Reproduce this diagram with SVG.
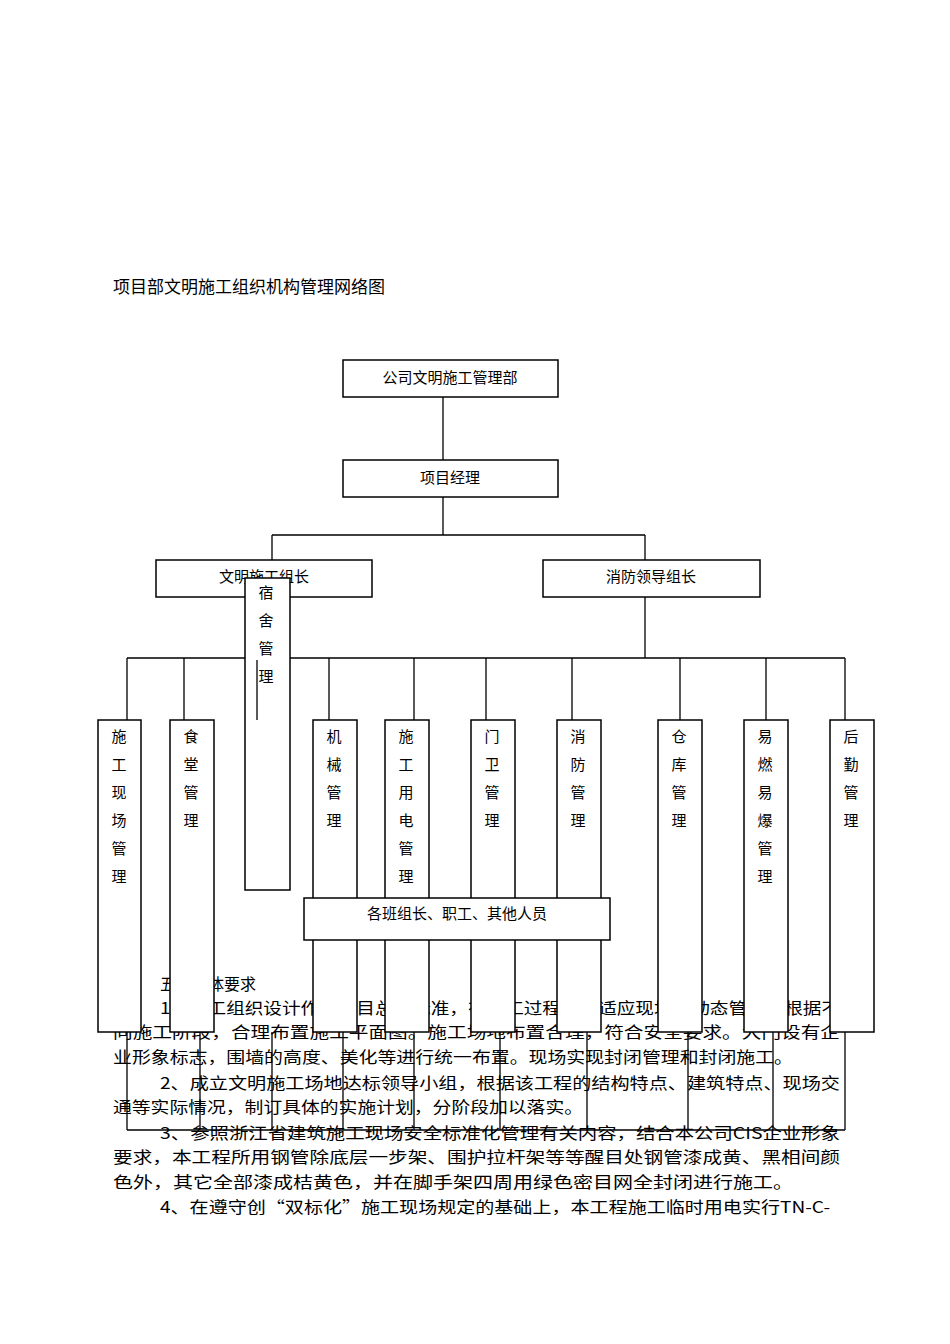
<svg xmlns="http://www.w3.org/2000/svg" width="950" height="1344" viewBox="0 0 950 1344">
<style>
text{font-family:"Noto Sans CJK SC","Liberation Sans",sans-serif;fill:#000}
.t{font-size:16px}
.n{font-size:15px;text-anchor:middle}
rect{fill:#fff;stroke:#000;stroke-width:1.5}
line,path{stroke:#000;stroke-width:1.3;fill:none}
</style>
<rect x="0" y="0" width="950" height="1344" style="stroke:none"/>
<text x="113" y="293" style="font-size:17px">项目部文明施工组织机构管理网络图</text>
<g id="para" class="t">
<text x="160" y="990">五、具体要求</text>
<text x="160" y="1014" textLength="680" lengthAdjust="spacingAndGlyphs">1、施工组织设计作为项目总体标准，在施工过程中要适应现场的动态管理，根据不</text>
<text x="113" y="1038" textLength="727" lengthAdjust="spacingAndGlyphs">同施工阶段，合理布置施工平面图。施工场地布置合理，符合安全要求。大门设有企</text>
<text x="113" y="1063" textLength="680" lengthAdjust="spacingAndGlyphs">业形象标志，围墙的高度、美化等进行统一布置。现场实现封闭管理和封闭施工。</text>
<text x="160" y="1089" textLength="680" lengthAdjust="spacingAndGlyphs">2、成立文明施工场地达标领导小组，根据该工程的结构特点、建筑特点、现场交</text>
<text x="113" y="1113" textLength="470" lengthAdjust="spacingAndGlyphs">通等实际情况，制订具体的实施计划，分阶段加以落实。</text>
<text x="160" y="1139" textLength="680" lengthAdjust="spacingAndGlyphs">3、参照浙江省建筑施工现场安全标准化管理有关内容，结合本公司CIS企业形象</text>
<text x="113" y="1163" textLength="727" lengthAdjust="spacingAndGlyphs">要求，本工程所用钢管除底层一步架、围护拉杆架等等醒目处钢管漆成黄、黑相间颜</text>
<text x="113" y="1188" textLength="680" lengthAdjust="spacingAndGlyphs">色外，其它全部漆成桔黄色，并在脚手架四周用绿色密目网全封闭进行施工。</text>
<text x="160" y="1213" textLength="670" lengthAdjust="spacingAndGlyphs">4、在遵守创“双标化”施工现场规定的基础上，本工程施工临时用电实行TN-C-</text>
</g>
<g id="connectors">
<path d="M443 397V460M443 497V535M272 535H645M272 535V560M645 535V560M645 597V658M127 658H845"/>
<path d="M127 658V720M184 658V720M329 658V720M414 658V720M486 658V720M572 658V720M680 658V720M766 658V720M845 658V720"/>
<path d="M127 1032V1130M200 1032V1130M272 1032V1130M343 1032V1130M414 1032V1130M500 1032V1130M587 1032V1130M688 1032V1130M773 1032V1130M845 1032V1130M127 1130H845"/>
</g>
<g id="n1"><rect x="343" y="360" width="215" height="37"/><text class="n" x="450" y="383">公司文明施工管理部</text></g>
<g id="n2"><rect x="343" y="460" width="215" height="37"/><text class="n" x="450" y="483">项目经理</text></g>
<g id="n3"><rect x="156" y="560" width="216" height="37"/><text class="n" x="264" y="582">文明施工组长</text></g>
<g id="n4"><rect x="543" y="560" width="217" height="37"/><text class="n" x="651" y="582">消防领导组长</text></g>
<g id="n5"><rect x="245" y="578" width="45" height="312"/><text class="n" x="266" y="598">宿</text><text class="n" x="266" y="626">舍</text><text class="n" x="266" y="654">管</text><text class="n" x="266" y="682">理</text><path d="M257 660V720"/></g>
<g id="n6"><rect x="98" y="720" width="43" height="312"/><text class="n" x="119" y="742">施</text><text class="n" x="119" y="770">工</text><text class="n" x="119" y="798">现</text><text class="n" x="119" y="826">场</text><text class="n" x="119" y="854">管</text><text class="n" x="119" y="882">理</text></g>
<g id="n7"><rect x="170" y="720" width="44" height="312"/><text class="n" x="191" y="742">食</text><text class="n" x="191" y="770">堂</text><text class="n" x="191" y="798">管</text><text class="n" x="191" y="826">理</text></g>
<g id="n8"><rect x="313" y="720" width="44" height="312"/><text class="n" x="334" y="742">机</text><text class="n" x="334" y="770">械</text><text class="n" x="334" y="798">管</text><text class="n" x="334" y="826">理</text></g>
<g id="n9"><rect x="385" y="720" width="44" height="312"/><text class="n" x="406" y="742">施</text><text class="n" x="406" y="770">工</text><text class="n" x="406" y="798">用</text><text class="n" x="406" y="826">电</text><text class="n" x="406" y="854">管</text><text class="n" x="406" y="882">理</text></g>
<g id="n10"><rect x="471" y="720" width="44" height="312"/><text class="n" x="492" y="742">门</text><text class="n" x="492" y="770">卫</text><text class="n" x="492" y="798">管</text><text class="n" x="492" y="826">理</text></g>
<g id="n11"><rect x="557" y="720" width="44" height="312"/><text class="n" x="578" y="742">消</text><text class="n" x="578" y="770">防</text><text class="n" x="578" y="798">管</text><text class="n" x="578" y="826">理</text></g>
<g id="n12"><rect x="658" y="720" width="44" height="312"/><text class="n" x="679" y="742">仓</text><text class="n" x="679" y="770">库</text><text class="n" x="679" y="798">管</text><text class="n" x="679" y="826">理</text></g>
<g id="n13"><rect x="744" y="720" width="44" height="312"/><text class="n" x="765" y="742">易</text><text class="n" x="765" y="770">燃</text><text class="n" x="765" y="798">易</text><text class="n" x="765" y="826">爆</text><text class="n" x="765" y="854">管</text><text class="n" x="765" y="882">理</text></g>
<g id="n14"><rect x="830" y="720" width="44" height="312"/><text class="n" x="851" y="742">后</text><text class="n" x="851" y="770">勤</text><text class="n" x="851" y="798">管</text><text class="n" x="851" y="826">理</text></g>
<g id="n15"><rect x="304" y="898" width="306" height="42"/><text class="n" x="457" y="919">各班组长、职工、其他人员</text></g>
</svg>
